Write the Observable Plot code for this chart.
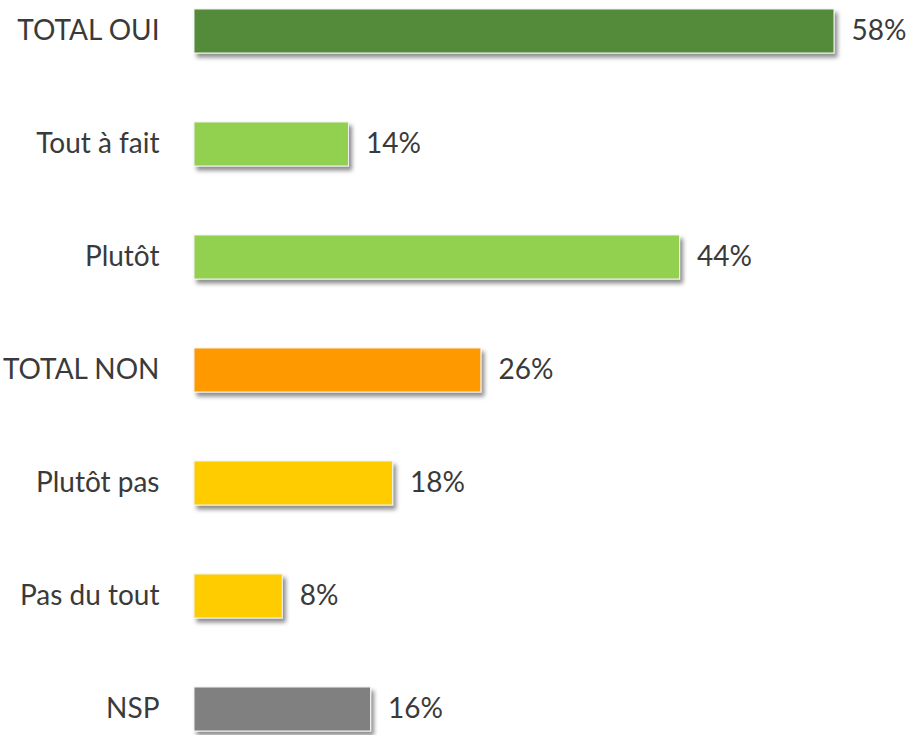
<!DOCTYPE html>
<html>
<head>
<meta charset="utf-8">
<script src="https://cdn.jsdelivr.net/npm/d3@7"></script>
<script src="https://cdn.jsdelivr.net/npm/@observablehq/plot@0.6"></script>
<style>
  html, body { margin: 0; padding: 0; background: #fff; }
  #chart svg { display: block; }
</style>
</head>
<body>
<div id="chart"></div>
<script>
const categories = ["TOTAL OUI", "Tout à fait", "Plutôt", "TOTAL NON", "Plutôt pas", "Pas du tout", "NSP"];
const values = [58, 14, 44, 26, 18, 8, 16];
const colors = ["#538B3B", "#92D050", "#92D050", "#FF9900", "#FFCC00", "#FFCC00", "#808080"];

const data = categories.map((c, i) => ({ category: c, value: values[i], color: colors[i] }));

const font = "Lato, 'Open Sans', sans-serif";

const chart = Plot.plot({
  width: 908,
  height: 735,
  marginTop: 6,
  marginBottom: 1,
  marginLeft: 194,
  marginRight: 74,
  style: { fontFamily: font, background: "#fff" },
  x: { domain: [0, 58], axis: null },
  y: { domain: categories, paddingInner: 0.614, paddingOuter: 0, axis: null },
  marks: [
    Plot.barX(data, {
      y: "category", x: "value", fill: "color",
      stroke: "#f2f2f2", strokeWidth: 1
    }),
    Plot.text(data, {
      y: "category", x: 0, text: "category",
      textAnchor: "end", dx: -35, fontSize: 28, fill: "#3a3a3a"
    }),
    Plot.text(data, {
      y: "category", x: "value", text: d => d.value + "%",
      textAnchor: "start", dx: 17, fontSize: 28, fill: "#3a3a3a"
    })
  ]
});

// drop shadow on bars
const ns = "http://www.w3.org/2000/svg";
const defs = document.createElementNS(ns, "defs");
defs.innerHTML = `<filter id="barshadow" x="-10%" y="-30%" width="130%" height="180%">
  <feDropShadow dx="3" dy="4" stdDeviation="2" flood-color="#000" flood-opacity="0.45"/>
</filter>`;
chart.insertBefore(defs, chart.firstChild);
const barGroup = chart.querySelector("g[aria-label='bar']");
if (barGroup) barGroup.setAttribute("filter", "url(#barshadow)");

document.getElementById("chart").appendChild(chart);
</script>
</body>
</html>
